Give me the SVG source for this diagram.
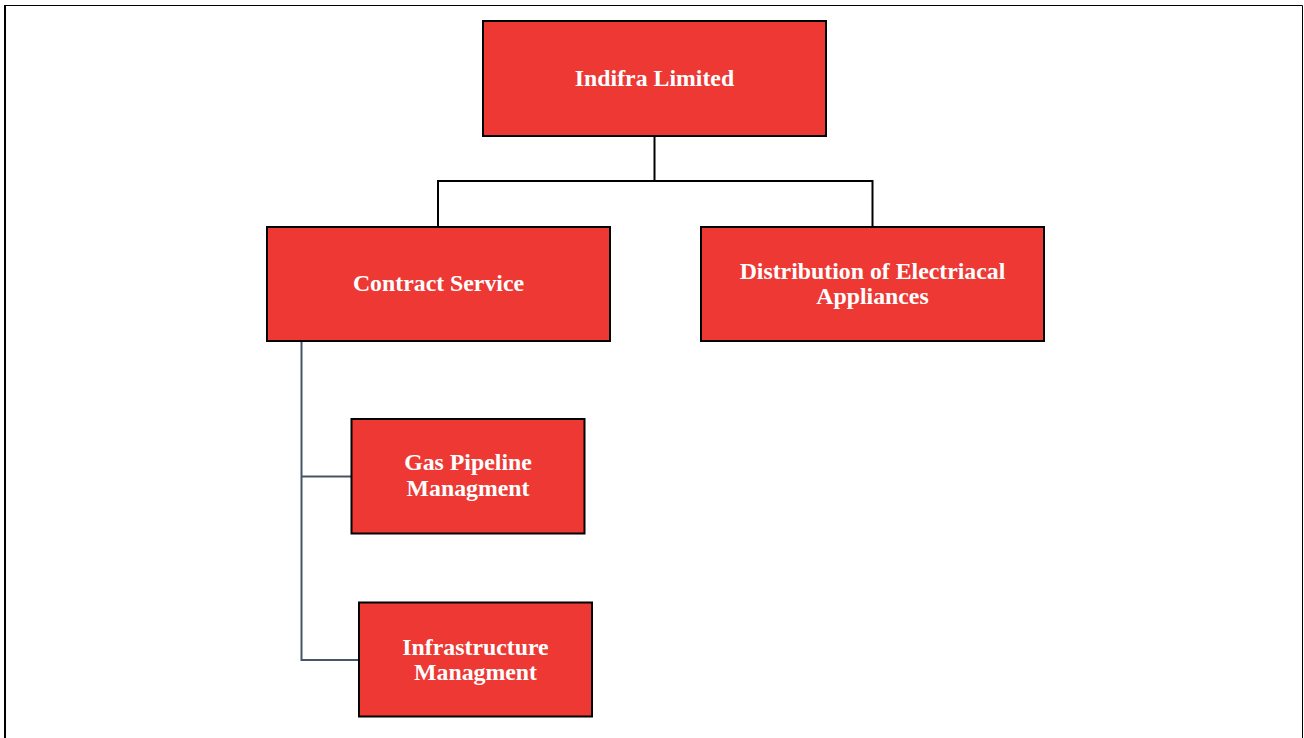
<svg xmlns="http://www.w3.org/2000/svg" width="1304" height="738" viewBox="0 0 1304 738">
<style>
.box{fill:#ED3834;stroke:#000;stroke-width:2}
.lbl{font-family:"Liberation Serif","Times New Roman",serif;font-weight:bold;font-size:23.8px;fill:#fff;text-anchor:middle}
.c1{fill:none;stroke:#000;stroke-width:2}
.c2{fill:none;stroke:#475569;stroke-width:2}
</style>
<rect width="1304" height="738" fill="#fff"/>
<g id="frame">
<path d="M5.5 750 V5.5 H1302.5 V750" fill="none" stroke="#000" stroke-width="1"/>
<path d="M5 5 V750" fill="none" stroke="#000" stroke-width="2"/>
</g>
<g id="connectors">
<path class="c1" d="M654.5 136 V181 M438 227 V181 H872.5 V227"/>
<path class="c2" d="M301.5 341 V660 H359 M301.5 476.5 H351"/>
</g>
<g id="n-indifra">
<rect class="box" x="483" y="21" width="343" height="115"/>
<text class="lbl" x="654.5" y="86">Indifra Limited</text>
</g>
<g id="n-contract">
<rect class="box" x="267" y="227" width="343" height="114"/>
<text class="lbl" x="438.5" y="291">Contract Service</text>
</g>
<g id="n-distribution">
<rect class="box" x="701" y="227" width="343" height="114"/>
<text class="lbl" x="872.5" y="279">Distribution of Electriacal</text>
<text class="lbl" x="872.5" y="304">Appliances</text>
</g>
<g id="n-gas">
<rect class="box" x="351.5" y="419" width="233" height="114.5"/>
<text class="lbl" x="468" y="470">Gas Pipeline</text>
<text class="lbl" x="468" y="495.5">Managment</text>
</g>
<g id="n-infra">
<rect class="box" x="359" y="602.5" width="233" height="114"/>
<text class="lbl" x="475.5" y="654.5">Infrastructure</text>
<text class="lbl" x="475.5" y="679.5">Managment</text>
</g>
</svg>
